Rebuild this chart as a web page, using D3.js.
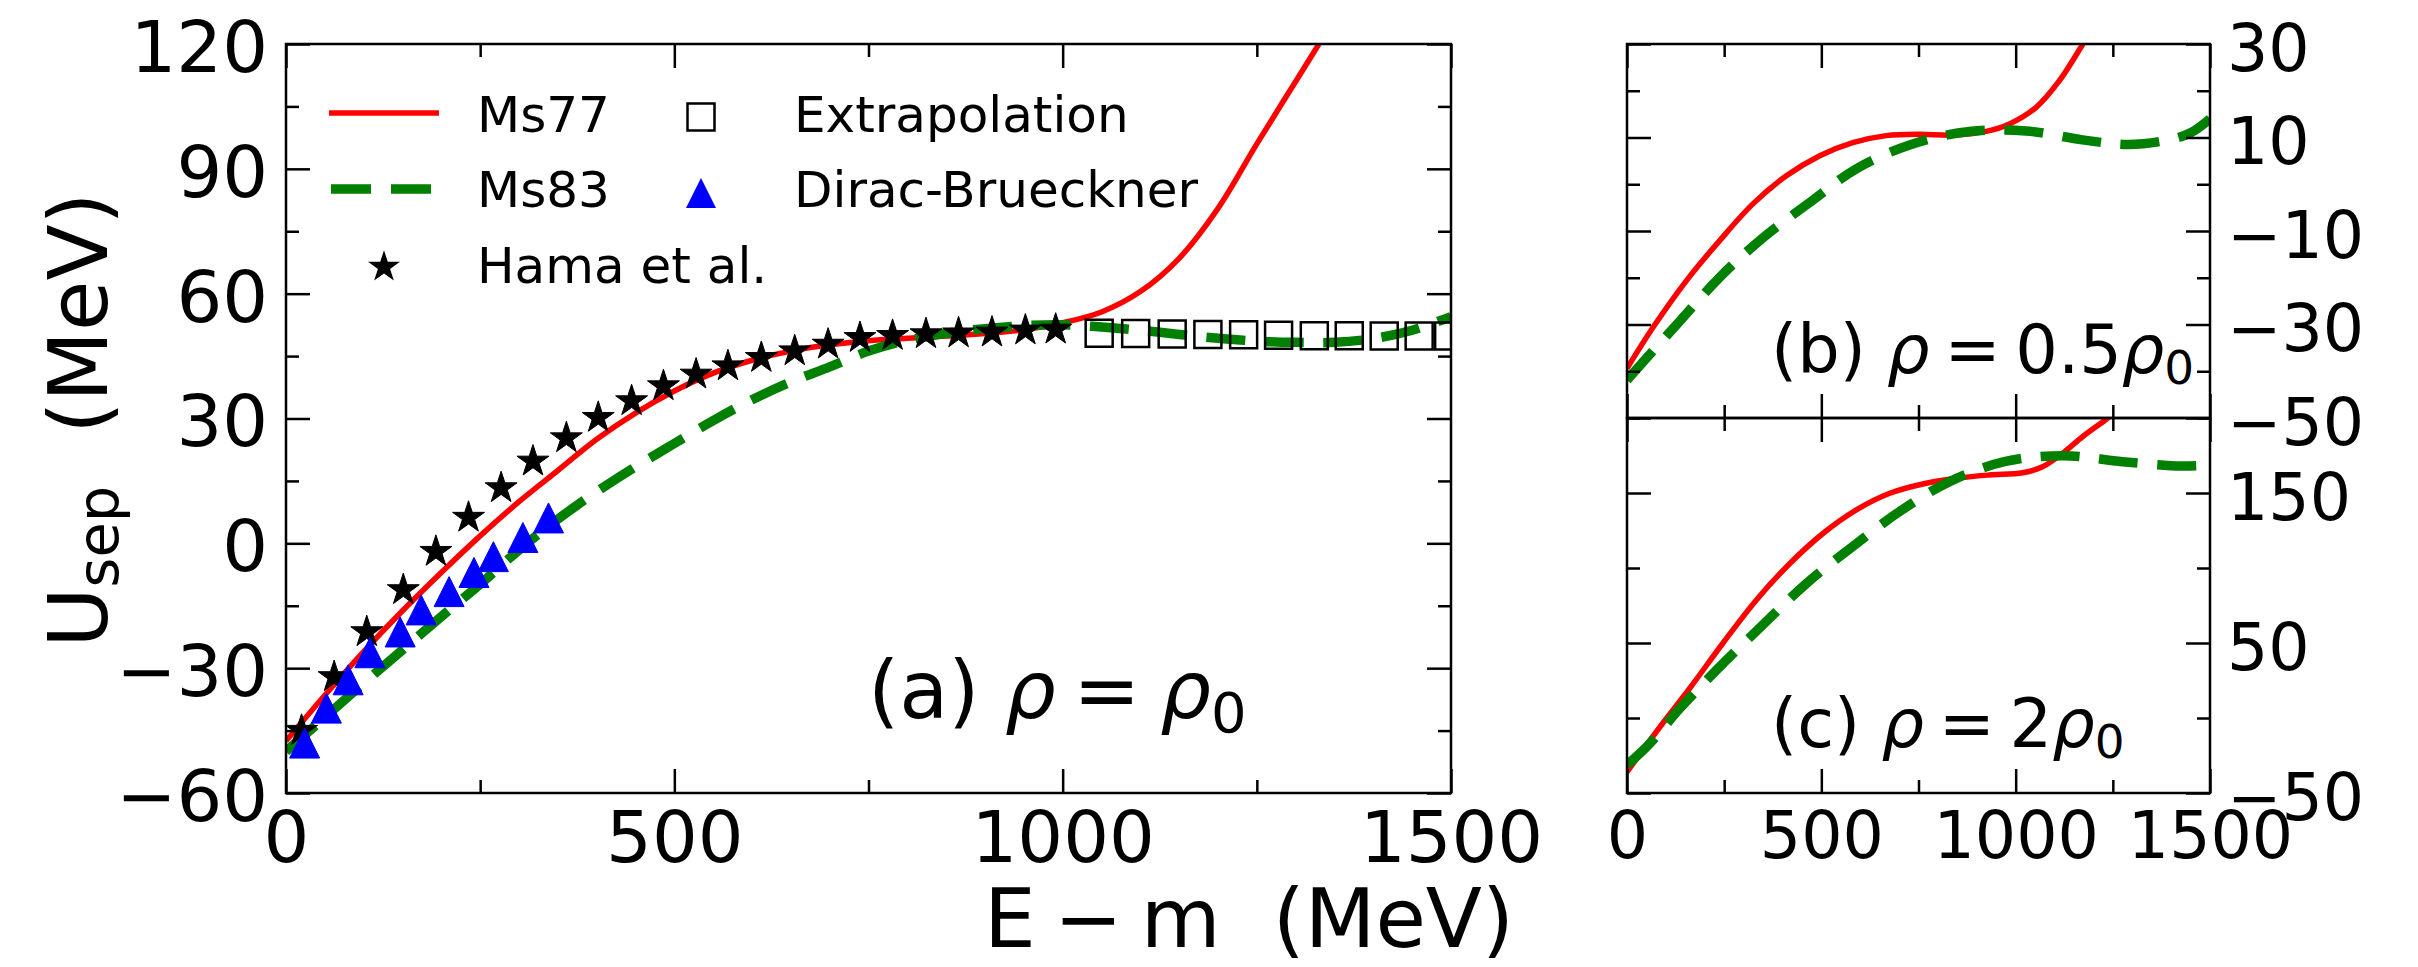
<!DOCTYPE html>
<html><head><meta charset="utf-8">
<script src="https://cdn.jsdelivr.net/npm/d3@7"></script>
<style>
html,body{margin:0;padding:0;background:#fff;}
svg{display:block;font-family:"DejaVu Sans";}
</style></head><body>
<svg id="chart" width="2418" height="967"></svg>
<script>
// ================= DATA =================
// Panel (a)  rho = rho0
const ms77A_E = [0,50,100,150,200,250,300,350,400,450,500,550,600,650,700,750,800,850,900,950,1000,1050,1100,1150,1200,1250,1300,1350];
const ms77A_U = [-47.5,-36.5,-26,-16.2,-7,1.8,10,17.5,25,31.3,36.6,40.9,44,46.2,47.7,48.7,49.3,49.8,50.4,51.3,53,55.6,60.5,68.5,80.5,96,111,126];
const ms83A_E = [0,50,100,150,200,250,300,350,400,450,500,550,600,650,700,750,800,850,900,950,1000,1050,1100,1150,1200,1250,1300,1350,1400,1450,1500];
const ms83A_U = [-50,-41.8,-33.6,-25.6,-17.6,-9.8,-1.6,5.8,12.4,18.4,24,29.5,34.5,38.8,42.4,46.2,48.8,50.5,51.6,52.3,52.5,52,51.2,50.2,49.3,48.6,48.3,48.3,49.2,51.2,54.5];
const hamaE = [20,62,104,151,193,235,277,318,361,402,445,486,528,569,612,655,698,739,781,824,866,909,952,991];
const hamaU = [-45,-32.1,-21.3,-11.2,-2,6.2,13.3,19.7,25.3,30.2,34.2,37.8,40.6,42.6,44.6,46.2,47.8,49.4,49.9,50.3,50.5,50.7,51.2,51.4];
const diracE = [24,52,80,108,147,174,210,242,267,305,338];
const diracU = [-48,-39.6,-32.8,-26.3,-21.3,-16,-11.6,-7,-3.2,1.4,6.1];
const extrapE = [1047,1094,1141,1187,1233,1278,1324,1369,1414,1459,1497];
const extrapU = [50.5,50.4,50.3,50.2,50.1,50.0,49.9,49.9,49.8,49.8,49.8];

// Panel (b)  rho = 0.5 rho0
const ms77B_E = [0,68,153,239,324,410,496,581,667,753,838,924,984,1052,1112,1172,1200];
const ms77B_U = [-39.4,-30.5,-20.6,-12,-4.2,1.8,6.1,8.9,10.4,10.7,10.5,11.3,12.9,16.4,22.1,29.9,34];
const ms83B_E = [0,38,140,241,352,470,590,731,881,1027,1172,1290,1400,1450,1500];
const ms83B_U = [-41.9,-38.3,-28.9,-19.7,-11.3,-3.9,3.3,8.5,11.3,11.4,9.5,8.5,9.6,11,14];

// Panel (c)  rho = 2 rho0
const ms77C_E = [0,76,162,247,333,419,504,590,676,761,847,932,1018,1069,1121,1172,1232,1260];
const ms77C_U = [-36,-9,20,50,78.7,103,123,138.7,149.8,156,159.8,162,163.5,167.5,176.5,187.5,199,205];
const ms83C_E = [0,55,136,239,352,462,580,701,830,971,1121,1275,1427,1500];
const ms83C_U = [-31.3,-18,6.4,34.2,62.7,89.8,114.2,137.6,157.6,170.9,174.9,170.9,168,168.7];

// Ticks
const xMajor = [0,500,1000,1500];
const xMinor = [250,750,1250];
const xTickLabels = ["0","500","1000","1500"];
const yMajorA = [-60,-30,0,30,60,90,120];
const yMinorA = [-45,-15,15,45,75,105];
const yTickLabelsA = ["\u221260","\u221230","0","30","60","90","120"];
const yMajorB = [-50,-30,-10,10,30];
const yMinorB = [-40,-20,0,20];
const yTickLabelsB = ["\u221250","\u221230","\u221210","10","30"];
const yMajorC = [-50,50,150];
const yMinorC = [0,100,200];
const yTickLabelsC = ["\u221250","50","150"];

const legendLabels = ["Ms77","Ms83","Hama et al.","Extrapolation","Dirac-Brueckner"];

// ================= DRAW =================
const svg = d3.select("#chart");
const FONT = "DejaVu Sans";
const RED = "#ff0000", GREEN = "#008000", BLUE = "#0000ff";

const xA = d3.scaleLinear([0,1500],[286,1451]);
const yA = d3.scaleLinear([-60,120],[793,44]);
const xB = d3.scaleLinear([0,1500],[1627,2210]);
const yB = d3.scaleLinear([-50,30],[418,44]);
const yC = d3.scaleLinear([-50,200],[793,418]);

function zip(E,U){ return E.map((e,i)=>[e,U[i]]); }

function starPath(R){
  const r = R*0.381966; let p = "";
  for(let i=0;i<10;i++){
    const a = -Math.PI/2 + i*Math.PI/5, rr = (i%2)? r : R;
    p += (i? "L":"M") + (rr*Math.cos(a)).toFixed(2) + "," + (rr*Math.sin(a)).toFixed(2);
  }
  return p + "Z";
}
const STAR = starPath(16.8);
const TRI = "M0,-15L15,15L-15,15Z";
const SQ = "M-13.5,-13.5H13.5V13.5H-13.5Z";

const defs = svg.append("defs");
function clip(id, x, y){
  defs.append("clipPath").attr("id", id).append("rect")
    .attr("x", x.range()[0]).attr("y", y.range()[1])
    .attr("width", x.range()[1]-x.range()[0]).attr("height", y.range()[0]-y.range()[1]);
}
clip("clipA", xA, yA); clip("clipB", xB, yB); clip("clipC", xB, yC);

function drawLine(g, x, y, data, color, width, dash){
  const line = d3.line().x(d=>x(d[0])).y(d=>y(d[1])).curve(d3.curveCatmullRom.alpha(0.5));
  const p = g.append("path").datum(data).attr("d", line)
    .attr("fill","none").attr("stroke", color).attr("stroke-width", width);
  if (dash) p.attr("stroke-dasharray", dash);
}
function drawMarkers(g, x, y, data, path, fill, stroke, sw){
  g.selectAll(null).data(data).enter().append("path")
    .attr("d", path).attr("transform", d=>`translate(${x(d[0])},${y(d[1])})`)
    .attr("fill", fill).attr("stroke", stroke).attr("stroke-width", sw);
}

function axisPart(gen, tr, values, size, fmt, fs, pad){
  const a = gen.tickValues(values).tickSize(-size).tickPadding(pad||0)
    .tickFormat(fmt ? ((d,i)=>fmt[i]) : ()=> "");
  const g = svg.append("g").attr("transform", tr).call(a);
  g.select(".domain").remove();
  g.selectAll(".tick line").attr("stroke","#000").attr("stroke-width",2.5);
  g.selectAll(".tick text").attr("font-family", FONT).attr("font-size", fs||10).attr("fill","#000");
  if (!fmt) g.selectAll(".tick text").remove();
  return g;
}

function frame(x, y, opt){
  const L = x.range()[0], R = x.range()[1], T = y.range()[1], B = y.range()[0];
  const MJ = 24, MN = 13;
  axisPart(d3.axisBottom(x), `translate(0,${B})`, opt.xMajor, MJ, opt.xLabels, opt.xFs, opt.xPad);
  axisPart(d3.axisBottom(x), `translate(0,${B})`, opt.xMinor, MN);
  axisPart(d3.axisTop(x), `translate(0,${T})`, opt.xMajor, MJ);
  axisPart(d3.axisTop(x), `translate(0,${T})`, opt.xMinor, MN);
  const gl = axisPart(d3.axisLeft(y), `translate(${L},0)`, opt.yMajor, MJ, opt.yLeftLabels, opt.yFs, opt.yPad);
  axisPart(d3.axisLeft(y), `translate(${L},0)`, opt.yMinor, MN);
  gl.selectAll(".tick text").attr("dy","0.38em");
  const gr = axisPart(d3.axisRight(y), `translate(${R},0)`, opt.yMajor, MJ, opt.yRightLabels, opt.yFs, opt.yPad);
  axisPart(d3.axisRight(y), `translate(${R},0)`, opt.yMinor, MN);
  gr.selectAll(".tick text").attr("dy","0.4em");
  svg.append("rect").attr("x",L).attr("y",T).attr("width",R-L).attr("height",B-T)
    .attr("fill","none").attr("stroke","#000").attr("stroke-width",2.5);
}

// ---- Panel (a) ----
const gA = svg.append("g").attr("clip-path","url(#clipA)");
drawLine(gA, xA, yA, zip(ms77A_E, ms77A_U), RED, 5.5);
drawLine(gA, xA, yA, zip(ms83A_E, ms83A_U), GREEN, 9.5, "39,19.5");
drawMarkers(gA, xA, yA, zip(hamaE, hamaU), STAR, "#000", "#000", 1);
drawMarkers(gA, xA, yA, zip(extrapE, extrapU), SQ, "none", "#000", 2.5);
drawMarkers(gA, xA, yA, zip(diracE, diracU), TRI, BLUE, BLUE, 1);
frame(xA, yA, {xMajor, xMinor, xLabels: xTickLabels, xFs: 72, xPad: 18,
  yMajor: yMajorA, yMinor: yMinorA, yLeftLabels: yTickLabelsA, yFs: 72, yPad: 18});

// ---- Panel (b) ----
const gB = svg.append("g").attr("clip-path","url(#clipB)");
drawLine(gB, xB, yB, zip(ms77B_E, ms77B_U), RED, 5.5);
drawLine(gB, xB, yB, zip(ms83B_E, ms83B_U), GREEN, 9.5, "39,19.5");
frame(xB, yB, {xMajor, xMinor, xLabels: null,
  yMajor: yMajorB, yMinor: yMinorB, yRightLabels: yTickLabelsB, yFs: 65, yPad: 17});

// ---- Panel (c) ----
const gC = svg.append("g").attr("clip-path","url(#clipC)");
drawLine(gC, xB, yC, zip(ms77C_E, ms77C_U), RED, 5.5);
drawLine(gC, xB, yC, zip(ms83C_E, ms83C_U), GREEN, 9.5, "39,19.5");
frame(xB, yC, {xMajor, xMinor, xLabels: xTickLabels, xFs: 65, xPad: 19,
  yMajor: yMajorC, yMinor: yMinorC, yRightLabels: yTickLabelsC, yFs: 65, yPad: 17});

// ---- Panel labels ----
function panelLabel(x, y, fs, tag, mid){
  const t = svg.append("text").attr("x", x).attr("y", y).attr("font-family", FONT)
    .attr("font-size", fs).attr("fill","#000").attr("xml:space","preserve");
  t.append("tspan").text(tag + " ");
  t.append("tspan").attr("font-style","italic").text("\u03c1");
  t.append("tspan").attr("dx","0.22em").text("=");
  if (mid) {
    t.append("tspan").attr("dx","0.22em").text(mid);
    t.append("tspan").attr("font-style","italic").text("\u03c1");
  } else {
    t.append("tspan").attr("dx","0.25em").attr("font-style","italic").text("\u03c1");
  }
  t.append("tspan").attr("font-size", fs*0.7).attr("dy", fs*0.17).text("0");
}
panelLabel(868, 718, 80, "(a)", "");
panelLabel(1771, 373, 67, "(b)", "0.5");
panelLabel(1771, 747, 67, "(c)", "2");

// ---- Axis titles ----
const xt = svg.append("text").attr("x", 1249).attr("y", 947).attr("text-anchor","middle")
  .attr("font-family", FONT).attr("font-size", 82).attr("fill","#000").attr("xml:space","preserve");
xt.append("tspan").text("E");
xt.append("tspan").attr("dx","0.22em").text("\u2212");
xt.append("tspan").attr("dx","0.22em").text("m");
xt.append("tspan").text("  (MeV)");

const yt = svg.append("text").attr("transform","translate(107,420) rotate(-90)")
  .attr("text-anchor","middle").attr("font-family", FONT).attr("font-size", 82)
  .attr("fill","#000").attr("xml:space","preserve");
yt.append("tspan").text("U");
yt.append("tspan").attr("font-size", 57.4).attr("dy", 11).text("sep");
yt.append("tspan").attr("dy", -11).text("  (MeV)");

// ---- Legend ----
const lg = svg.append("g").attr("font-family", FONT).attr("font-size", 50).attr("fill","#000");
lg.append("line").attr("x1",329).attr("x2",439).attr("y1",113).attr("y2",113)
  .attr("stroke", RED).attr("stroke-width", 5.5);
lg.append("line").attr("x1",331).attr("x2",439).attr("y1",189).attr("y2",189)
  .attr("stroke", GREEN).attr("stroke-width", 9.5).attr("stroke-dasharray","40,20");
lg.append("path").attr("d", STAR).attr("transform","translate(384,267)").attr("fill","#000");
lg.append("path").attr("d", SQ).attr("transform","translate(701,117)").attr("fill","none")
  .attr("stroke","#000").attr("stroke-width",2.5);
lg.append("path").attr("d", TRI).attr("transform","translate(701,193)").attr("fill",BLUE);
const legendPos = [[477,132],[477,207],[477,283],[794,132],[794,207]];
lg.selectAll("text.lt").data(legendLabels).enter().append("text")
  .attr("x",(d,i)=>legendPos[i][0]).attr("y",(d,i)=>legendPos[i][1]).text(d=>d);
</script>
</body></html>
